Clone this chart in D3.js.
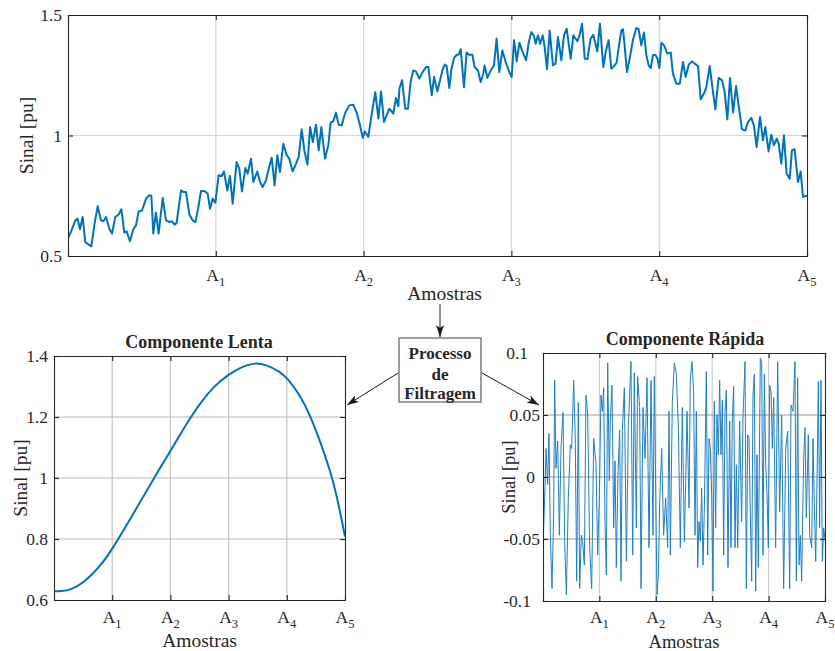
<!DOCTYPE html>
<html><head><meta charset="utf-8">
<script src="https://cdn.jsdelivr.net/npm/d3@7/dist/d3.min.js"></script>
<style>
html,body{margin:0;padding:0;background:#fff;}
svg text{font-family:"Liberation Serif","Times New Roman",serif;fill:#262626;}
</style></head>
<body>
<svg id="chart" width="835" height="651"></svg>
<script>
// ---------------- DATA ----------------
const xTicks = [1, 2, 3, 4, 5];
const xTickNames = ["A", "A", "A", "A", "A"];
const xTickSubs = ["1", "2", "3", "4", "5"];
const xLabel = "Amostras";
const yLabel = "Sinal [pu]";

// Measured signal (top panel)
const topX = [0,0.020,0.050,0.065,0.081,0.099,0.117,0.140,0.158,0.178,0.201,0.223,0.239,0.257,0.280,0.298,0.320,0.343,0.361,0.381,0.397,0.419,0.442,0.460,0.478,0.501,0.528,0.550,0.564,0.577,0.595,0.613,0.641,0.663,0.686,0.704,0.722,0.735,0.765,0.780,0.798,0.821,0.843,0.862,0.880,0.900,0.922,0.945,0.961,0.979,0.997,1.019,1.040,1.055,1.078,1.096,1.114,1.141,1.159,1.177,1.200,1.216,1.238,1.254,
1.281,1.299,1.317,1.340,1.358,1.378,1.398,1.416,1.434,1.457,1.480,1.497,1.520,1.543,1.561,1.581,1.599,1.620,1.638,1.656,1.678,1.696,1.714,1.739,1.761,1.777,1.795,1.813,1.831,1.852,1.874,1.903,1.930,1.953,1.976,1.994,2.009,2.032,2.057,2.079,2.100,2.118,2.138,2.156,2.174,2.190,2.201,2.219,2.235,2.242,2.260,2.282,2.300,2.318,2.336,2.354,2.377,2.400,2.423,2.438,2.461,2.477,2.499,
2.517,2.533,2.549,2.562,2.580,2.594,2.612,2.630,2.643,2.657,2.679,2.697,2.713,2.736,2.751,2.774,2.792,2.810,2.819,2.837,2.860,2.882,2.900,2.918,2.939,2.961,2.986,3.002,3.018,3.036,3.054,3.072,3.099,3.119,3.135,3.153,3.164,3.180,3.194,3.212,3.225,3.241,3.259,3.281,3.299,3.315,3.338,3.356,3.374,3.401,3.419,3.446,3.460,3.478,3.496,3.514,3.536,3.554,3.581,3.599,3.622,3.638,3.658,3.676,3.694,3.712,3.728,3.744,
3.755,3.766,3.782,3.800,3.822,3.845,3.861,3.879,3.897,3.913,3.929,3.943,3.958,3.974,3.988,4.001,4.015,4.033,4.055,4.078,4.093,4.116,4.139,4.161,4.179,4.200,4.222,4.240,4.263,4.281,4.303,4.319,4.342,4.364,4.380,4.402,4.425,4.443,4.461,4.479,4.500,4.520,4.538,4.560,4.583,4.601,4.623,4.641,4.659,4.682,4.702,4.718,4.740,4.758,4.776,4.795,4.808,4.826,4.844,4.862,4.883,4.898,4.916,4.939,4.957,4.973,4.989,5.0];
const topY = [0.572,0.600,0.648,0.655,0.611,0.662,0.558,0.547,0.540,0.627,0.707,0.648,0.644,0.662,0.613,0.593,0.662,0.672,0.694,0.597,0.602,0.561,0.611,0.627,0.685,0.689,0.738,0.752,0.749,0.593,0.680,0.593,0.741,0.648,0.641,0.644,0.630,0.638,0.772,0.766,0.766,0.672,0.648,0.641,0.696,0.770,0.770,0.759,0.696,0.738,0.721,0.835,0.832,0.851,0.772,0.832,0.717,0.890,0.862,0.768,0.865,0.842,0.904,0.807,
0.851,0.807,0.786,0.814,0.862,0.908,0.793,0.918,0.849,0.966,0.918,0.904,0.851,0.883,0.911,1.026,0.938,0.879,1.035,0.973,1.045,0.938,1.035,0.904,0.959,1.053,1.059,1.095,1.045,1.042,1.091,1.125,1.128,1.095,1.042,0.990,1.017,0.994,1.098,1.180,1.070,1.183,1.056,1.084,1.111,1.100,1.091,1.156,1.122,1.194,1.229,1.111,1.111,1.222,1.270,1.266,1.236,1.264,1.284,1.284,1.167,1.243,1.183,
1.229,1.270,1.294,1.288,1.197,1.275,1.322,1.335,1.335,1.358,1.201,1.344,1.335,1.335,1.284,1.270,1.222,1.257,1.291,1.239,1.270,1.291,1.402,1.263,1.353,1.305,1.263,1.243,1.395,1.308,1.385,1.353,1.312,1.391,1.429,1.413,1.381,1.416,1.381,1.416,1.367,1.275,1.436,1.291,1.298,1.409,1.312,1.416,1.443,1.319,1.416,1.391,1.413,1.464,1.319,1.316,1.402,1.418,1.349,1.464,1.284,1.346,1.395,1.277,1.288,1.302,1.374,1.436,
1.441,1.374,1.263,1.319,1.395,1.446,1.441,1.374,1.427,1.333,1.291,1.280,1.333,1.335,1.319,1.280,1.385,1.374,1.340,1.344,1.257,1.215,1.215,1.305,1.243,1.294,1.308,1.298,1.288,1.150,1.174,1.201,1.288,1.180,1.109,1.239,1.229,1.180,1.067,1.239,1.095,1.205,1.122,1.026,1.021,1.056,1.073,1.042,0.952,1.077,0.980,1.035,0.934,1.003,0.959,0.987,0.966,0.883,1.001,0.842,0.821,0.938,0.943,0.807,0.851,0.745,0.749,0.749];
const topYTicks = [0.5, 1, 1.5];

// Slow component (bottom-left)
const slowX = [0,0.12,0.3,0.504,0.790,0.991,1.249,1.535,1.764,1.993,2.280,2.509,2.738,3.001,3.253,3.454,3.654,3.883,4.009,4.227,4.399,4.570,4.742,4.857,5.0];
const slowY = [0.629,0.628,0.634,0.655,0.709,0.764,0.846,0.939,1.015,1.086,1.179,1.245,1.299,1.341,1.367,1.378,1.371,1.349,1.327,1.272,1.206,1.122,1.026,0.945,0.808];
const slowYTicks = [0.6, 0.8, 1, 1.2, 1.4];

// Fast component (bottom-right)
const fastX = [0,0.035,0.053,0.083,0.106,0.130,0.160,0.189,0.207,0.230,0.260,0.290,0.319,0.355,0.384,0.414,0.449,0.485,0.508,0.544,0.573,0.597,0.626,0.650,0.680,0.703,0.733,0.762,0.792,0.827,0.863,0.898,0.940,0.969,0.999,
1.028,1.052,1.076,1.099,1.123,1.147,1.176,1.194,1.223,1.253,1.277,1.300,1.330,1.359,1.383,1.407,1.442,1.478,1.513,1.560,1.590,1.619,1.655,1.678,1.714,1.738,1.773,1.809,1.844,1.879,1.915,1.950,1.974,
2.021,2.045,2.069,2.104,2.139,2.175,2.210,2.234,2.258,2.293,2.329,2.364,2.400,2.435,2.470,2.506,2.530,2.553,2.589,2.612,2.642,2.671,2.695,2.719,2.742,2.766,2.790,2.813,2.837,2.861,2.896,2.920,2.943,2.967,2.991,
3.014,3.038,3.061,3.085,3.109,3.132,3.156,3.180,3.203,3.227,3.251,3.280,3.310,3.333,3.357,3.381,3.404,3.428,3.452,3.487,3.522,3.546,3.582,3.605,3.629,3.652,3.676,3.700,3.723,3.747,3.771,3.794,3.818,3.853,3.877,3.901,3.924,3.948,3.972,3.995,
4.019,4.043,4.066,4.090,4.125,4.161,4.196,4.232,4.267,4.303,4.338,4.374,4.397,4.433,4.468,4.492,4.515,4.539,4.563,4.586,4.622,4.645,4.669,4.704,4.728,4.764,4.787,4.811,4.835,4.858,4.882,4.905,4.929,4.953,4.976,5.0];
const fastY = [-0.057,-0.009,0.023,-0.006,0.035,-0.047,-0.090,-0.030,0.078,0.007,0.029,-0.047,0.023,0.052,-0.052,-0.095,-0.017,0.026,0.023,0.078,0.029,-0.084,0.060,-0.090,-0.047,-0.052,-0.071,0.066,0.050,-0.057,-0.090,0.031,0.010,-0.063,-0.018,
0.066,0.053,0.072,-0.036,-0.079,0.092,-0.003,0.046,0.074,-0.041,0.013,-0.073,0.002,0.038,-0.084,0.038,0.072,-0.068,0.040,0.093,-0.063,0.084,-0.041,0.081,0.056,-0.090,0.056,0.015,0.080,-0.057,0.078,-0.047,0.081,
-0.095,-0.079,-0.020,0.023,-0.047,-0.017,-0.057,0.053,-0.063,0.061,0.092,0.083,0.040,-0.057,0.056,-0.052,-0.003,0.053,-0.025,0.080,0.093,0.069,-0.047,0.053,-0.073,-0.036,-0.052,-0.009,-0.071,-0.025,0.085,-0.063,0.031,0.023,-0.014,
-0.092,0.061,-0.041,0.050,0.018,0.078,0.018,0.062,-0.063,0.053,0.070,-0.073,0.045,-0.057,0.048,0.073,-0.057,0.010,-0.057,0.045,-0.036,0.048,0.093,-0.090,0.034,0.031,-0.030,-0.084,0.066,0.083,-0.092,0.018,-0.073,0.096,0.093,-0.063,0.083,0.010,-0.014,-0.057,
0.074,0.069,0.023,0.064,-0.057,0.093,-0.028,0.050,-0.090,0.023,0.037,-0.090,0.058,0.053,0.093,-0.084,0.080,-0.071,-0.047,-0.084,0.015,0.040,-0.033,0.034,-0.047,-0.057,0.031,-0.022,-0.068,-0.003,0.077,-0.041,0.078,-0.068,-0.041,-0.050];
const fastYTicks = [-0.1, -0.05, 0, 0.05, 0.1];

const titleSlow = "Componente Lenta";
const titleFast = "Componente Rápida";
const boxLines = ["Processo", "de", "Filtragem"];

// ---------------- DRAW ----------------
const svg = d3.select("#chart");
svg.append("rect").attr("width", 835).attr("height", 651).attr("fill", "#fff");
const defs = svg.append("defs");
defs.append("marker").attr("id", "arr").attr("viewBox", "0 0 12 8")
  .attr("refX", 12).attr("refY", 4).attr("markerWidth", 12).attr("markerHeight", 8)
  .attr("markerUnits", "userSpaceOnUse").attr("orient", "auto")
  .append("path").attr("d", "M0,0 L12,4 L0,8 L3,4 Z").attr("fill", "#1a1a1a");

const LINE = "#0072BD";

function panel(o) {
  const g = svg.append("g");
  const x = d3.scaleLinear().domain([0, 5]).range([o.l, o.r]);
  const y = d3.scaleLinear().domain(o.yDom).range([o.b, o.t]);
  const cid = "clip" + Math.round(o.l) + Math.round(o.t);
  defs.append("clipPath").attr("id", cid).append("rect")
    .attr("x", o.l).attr("y", o.t - 2).attr("width", o.r - o.l).attr("height", o.b - o.t + 4);
  // grid
  const gx = xTicks.filter(v => v > 0 && v < 5);
  const gy = o.yTicks.filter(v => v > o.yDom[0] && v < o.yDom[1]);
  g.selectAll(".gx").data(gx).join("line")
    .attr("x1", d => x(d)).attr("x2", d => x(d)).attr("y1", o.t).attr("y2", o.b)
    .attr("stroke", o.gridX).attr("stroke-width", 1.2);
  g.selectAll(".gy").data(gy).join("line")
    .attr("x1", o.l).attr("x2", o.r).attr("y1", d => y(d)).attr("y2", d => y(d))
    .attr("stroke", o.gridY).attr("stroke-width", 1.2);
  // line
  const pts = o.xs.map((v, i) => [v, o.ys[i]]);
  g.append("path").datum(pts)
    .attr("clip-path", `url(#${cid})`)
    .attr("d", d3.line().x(d => x(d[0])).y(d => y(d[1])).curve(o.curve || d3.curveLinear))
    .attr("fill", "none").attr("stroke", o.color || LINE).attr("stroke-width", o.lw)
    .attr("stroke-linejoin", "round").attr("opacity", o.op || 1);
  // axes (inward ticks)
  const ax = g.append("g").attr("class", "axes");
  const tl = 5;
  const xb = d3.axisBottom(x).tickValues(xTicks).tickSize(-tl).tickFormat("");
  const xt = d3.axisTop(x).tickValues(xTicks).tickSize(-tl).tickFormat("");
  const yl = d3.axisLeft(y).tickValues(o.yTicks).tickSize(-tl).tickFormat("");
  const yr = d3.axisRight(y).tickValues(o.yTicks).tickSize(-tl).tickFormat("");
  ax.append("g").attr("transform", `translate(0,${o.b})`).call(xb);
  ax.append("g").attr("transform", `translate(0,${o.t})`).call(xt);
  ax.append("g").attr("transform", `translate(${o.l},0)`).call(yl);
  ax.append("g").attr("transform", `translate(${o.r},0)`).call(yr);
  ax.selectAll("path.domain").attr("stroke", "#262626").attr("stroke-width", 1.1);
  ax.selectAll(".tick line").attr("stroke", "#262626").attr("stroke-width", 1.1);
  // y tick labels
  g.selectAll(".ytl").data(o.yTicks).join("text")
    .attr("x", d => o.l - (o.ylOff ? o.ylOff(d) : 6)).attr("y", d => y(d))
    .attr("text-anchor", "end").attr("dominant-baseline", "central")
    .attr("font-size", o.fs).text(d => String(d));
  // x tick labels with subscripts
  const xl = g.selectAll(".xtl").data(xTicks).join("text")
    .attr("x", d => x(d)).attr("y", o.b + o.xtDy).attr("text-anchor", "middle")
    .attr("font-size", o.fs);
  xl.append("tspan").text((d, i) => xTickNames[i]);
  xl.append("tspan").attr("dy", 5).attr("font-size", o.fs * 0.72).text((d, i) => xTickSubs[i]);
  // axis labels
  g.append("text").attr("x", (o.l + o.r) / 2 + (o.xlDx || 0)).attr("y", o.xlY)
    .attr("text-anchor", "middle").attr("font-size", o.lfs).text(xLabel);
  g.append("text").attr("transform", `translate(${o.ylX},${(o.t + o.b) / 2 + (o.ylDy || 0)}) rotate(-90)`)
    .attr("text-anchor", "middle").attr("dominant-baseline", "central")
    .attr("font-size", o.lfs).text(yLabel);
  if (o.title) {
    g.append("text").attr("x", o.titleX).attr("y", o.titleY).attr("text-anchor", "middle")
      .attr("font-size", 18).attr("font-weight", "bold").attr("fill", "#000").text(o.title);
  }
}

panel({l: 68, r: 807, t: 15, b: 256, yDom: [0.5, 1.5], yTicks: topYTicks,
  xs: topX, ys: topY, lw: 2, gridX: "#d4d4d4", gridY: "#d4d4d4",
  fs: 17.5, lfs: 19.5, xtDy: 25, xlY: 300, xlDx: 7, ylX: 26});

panel({l: 54, r: 345, t: 356, b: 600, yDom: [0.6, 1.4], yTicks: slowYTicks,
  xs: slowX, ys: slowY, lw: 2, curve: d3.curveBasis, gridX: "#c4c4c4", gridY: "#b8b8b8",
  fs: 17.5, lfs: 19.5, xtDy: 23, xlY: 647, xlDx: 0, ylX: 20, ylDy: 0,
  title: titleSlow, titleX: 199, titleY: 348});

panel({l: 543, r: 825, t: 353, b: 601, yDom: [-0.1, 0.1], yTicks: fastYTicks,
  xs: fastX, ys: fastY, lw: 1, color: "#1f7fc6", gridX: "#cccccc", gridY: "#9a9a9a",
  fs: 17.5, lfs: 18.5, xtDy: 22, xlY: 648, xlDx: 0, ylX: 509,
  ylOff: d => (d === 0.1 ? 15 : d === -0.1 ? 12 : d === 0 ? 8 : 3),
  title: titleFast, titleX: 685, titleY: 345});

// Filtering box and arrows
const bx = svg.append("g");
bx.append("rect").attr("x", 399).attr("y", 338).attr("width", 82).attr("height", 64)
  .attr("fill", "#fff").attr("stroke", "#7f7f7f").attr("stroke-width", 1.5);
const by = [359, 380, 399];
bx.selectAll("text.bl").data(boxLines).join("text")
  .attr("x", 440).attr("y", (d, i) => by[i]).attr("text-anchor", "middle")
  .attr("font-size", 17).attr("font-weight", "bold").attr("fill", "#000").text(d => d);
const arrows = [[440, 304, 440, 337], [398, 373, 347, 405], [482, 373, 539, 405]];
svg.selectAll("line.arr").data(arrows).join("line")
  .attr("x1", d => d[0]).attr("y1", d => d[1]).attr("x2", d => d[2]).attr("y2", d => d[3])
  .attr("stroke", "#1a1a1a").attr("stroke-width", 1).attr("marker-end", "url(#arr)");
</script>
</body></html>
